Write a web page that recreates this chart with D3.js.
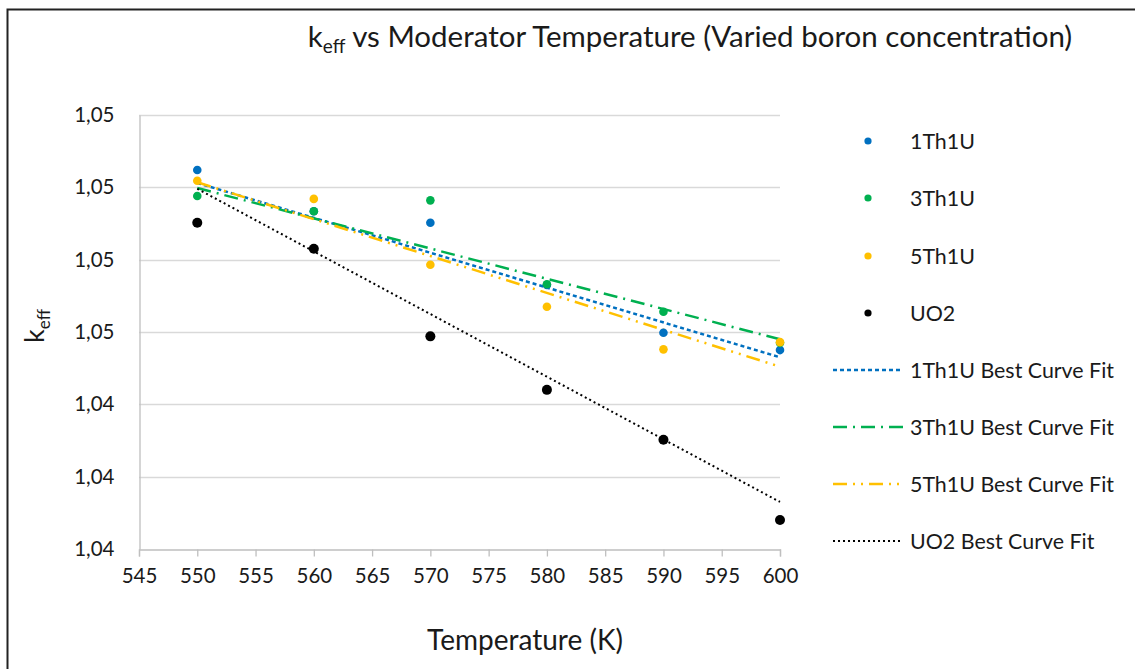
<!DOCTYPE html>
<html><head><meta charset="utf-8">
<script src="https://cdn.jsdelivr.net/npm/d3@7"></script>
<style>
html,body{margin:0;padding:0;background:#fff;}
svg text{font-family:Lato,"Open Sans",sans-serif;fill:#1a1a1a;}
</style></head>
<body>
<svg id="chart" width="1135" height="669"></svg>
<script>
// ---- data ----
const temperatures = [550, 560, 570, 580, 590, 600];
const seriesNames = ["1Th1U", "3Th1U", "5Th1U", "UO2"];
const kTh1 = [1.04724, 1.04667, 1.04651, 1.04565, 1.04499, 1.04475];
const kTh3 = [1.04688, 1.04667, 1.04682, 1.04566, 1.04528, 1.04485];
const kTh5 = [1.04709, 1.04684, 1.04593, 1.04535, 1.04476, 1.04486];
const kUO2 = [1.04651, 1.04615, 1.04494, 1.04420, 1.04351, 1.04240];
// best-fit lines, read at T = 550 and T = 600
const fitTemps = [550, 600];
const fitTh1 = [1.04706, 1.04465];
const fitTh3 = [1.04699, 1.04490];
const fitTh5 = [1.04707, 1.04452];
const fitUO2 = [1.04698, 1.04265];
const fitNames = ["1Th1U Best Curve Fit", "3Th1U Best Curve Fit", "5Th1U Best Curve Fit", "UO2 Best Curve Fit"];
const xTicks = [545, 550, 555, 560, 565, 570, 575, 580, 585, 590, 595, 600];
const yTicks = [1.042, 1.043, 1.044, 1.045, 1.046, 1.047, 1.048];
const yTickLabels = ["1,04", "1,04", "1,04", "1,05", "1,05", "1,05", "1,05"];

const colors = ["#0070c0", "#00b050", "#ffc000", "#000000"];
const dashes = ["4,3", "14,6,2,6", "14,6,2,6,2,6", "2,3"];

const svg = d3.select("#chart");
svg.append("rect").attr("width", 1135).attr("height", 669).attr("fill", "#fff");
svg.append("rect").attr("x", 7.5).attr("y", 9.5).attr("width", 1200).attr("height", 700)
  .attr("fill", "none").attr("stroke", "#222").attr("stroke-width", 2);

const x = d3.scaleLinear().domain([545, 600]).range([139, 780]);
const y = d3.scaleLinear().domain([1.042, 1.048]).range([549, 115]);

// gridlines
svg.append("g").selectAll("line").data(yTicks.slice(1)).join("line")
  .attr("x1", 139).attr("x2", 780)
  .attr("y1", d => Math.round(y(d)) + 0.5).attr("y2", d => Math.round(y(d)) + 0.5)
  .attr("stroke", "#d9d9d9").attr("stroke-width", 1.3);

// x axis
const xAxis = svg.append("g").attr("transform", "translate(0,549.5)")
  .call(d3.axisBottom(x).tickValues(xTicks).tickSize(7).tickPadding(12).tickFormat(d3.format("d")));
xAxis.select(".domain").attr("stroke", "#bfbfbf").attr("stroke-width", 1.3);
xAxis.selectAll(".tick line").attr("stroke", "#bfbfbf").attr("stroke-width", 1.3);
xAxis.selectAll("text").attr("font-size", 20.5).attr("font-family", "Lato").attr("fill", "#1a1a1a");

// y axis
const yAxis = svg.append("g").attr("transform", "translate(139.5,0)")
  .call(d3.axisLeft(y).tickValues(yTicks).tickSize(0).tickPadding(25)
    .tickFormat((d, i) => yTickLabels[i]));
yAxis.select(".domain").attr("stroke", "#bfbfbf").attr("stroke-width", 1.3);
yAxis.selectAll("text").attr("font-size", 20.5).attr("font-family", "Lato").attr("fill", "#1a1a1a");

// fit lines
const fits = [fitTh1, fitTh3, fitTh5, fitUO2];
const line = d3.line().x(d => x(d[0])).y(d => y(d[1]));
fits.forEach((f, i) => {
  svg.append("path").datum(fitTemps.map((t, j) => [t, f[j]]))
    .attr("d", line).attr("fill", "none").attr("stroke", colors[i])
    .attr("stroke-width", i === 3 ? 2 : 2.5).attr("stroke-dasharray", dashes[i]);
});

// points
const series = [kTh1, kTh3, kTh5, kUO2];
series.forEach((s, i) => {
  svg.append("g").selectAll("circle").data(temperatures.map((t, j) => [t, s[j]])).join("circle")
    .attr("cx", d => x(d[0])).attr("cy", d => y(d[1])).attr("r", i === 3 ? 5 : 4.3)
    .attr("fill", colors[i]);
});

// title
const title = svg.append("text").attr("x", 690).attr("y", 47).attr("text-anchor", "middle")
  .attr("font-size", 29.5);
title.append("tspan").text("k");
title.append("tspan").attr("font-size", 19).attr("dy", 6).text("eff");
title.append("tspan").attr("dy", -6).text(" vs Moderator Temperature (Varied boron concentration)");

// axis titles
svg.append("text").attr("x", 525).attr("y", 650).attr("text-anchor", "middle")
  .attr("font-size", 28).text("Temperature (K)");
const yt = svg.append("text").attr("transform", "translate(44,326) rotate(-90)")
  .attr("text-anchor", "middle").attr("font-size", 27);
yt.append("tspan").text("k");
yt.append("tspan").attr("font-size", 17).attr("dy", 6).text("eff");

// legend
const legendY = [141, 198, 256, 313, 370, 427, 484, 541];
seriesNames.forEach((n, i) => {
  svg.append("circle").attr("cx", 868).attr("cy", legendY[i]).attr("r", 3.6).attr("fill", colors[i]);
  svg.append("text").attr("x", 910).attr("y", legendY[i]).attr("dy", "0.36em")
    .attr("font-size", 21.4).text(n);
});
fitNames.forEach((n, i) => {
  const ly = legendY[i + 4];
  svg.append("line").attr("x1", 833).attr("x2", 903).attr("y1", ly).attr("y2", ly)
    .attr("stroke", colors[i]).attr("stroke-width", i === 3 ? 2 : 2.5).attr("stroke-dasharray", dashes[i]);
  svg.append("text").attr("x", 910).attr("y", ly).attr("dy", "0.36em")
    .attr("font-size", 21.4).text(n);
});
</script>
</body></html>
